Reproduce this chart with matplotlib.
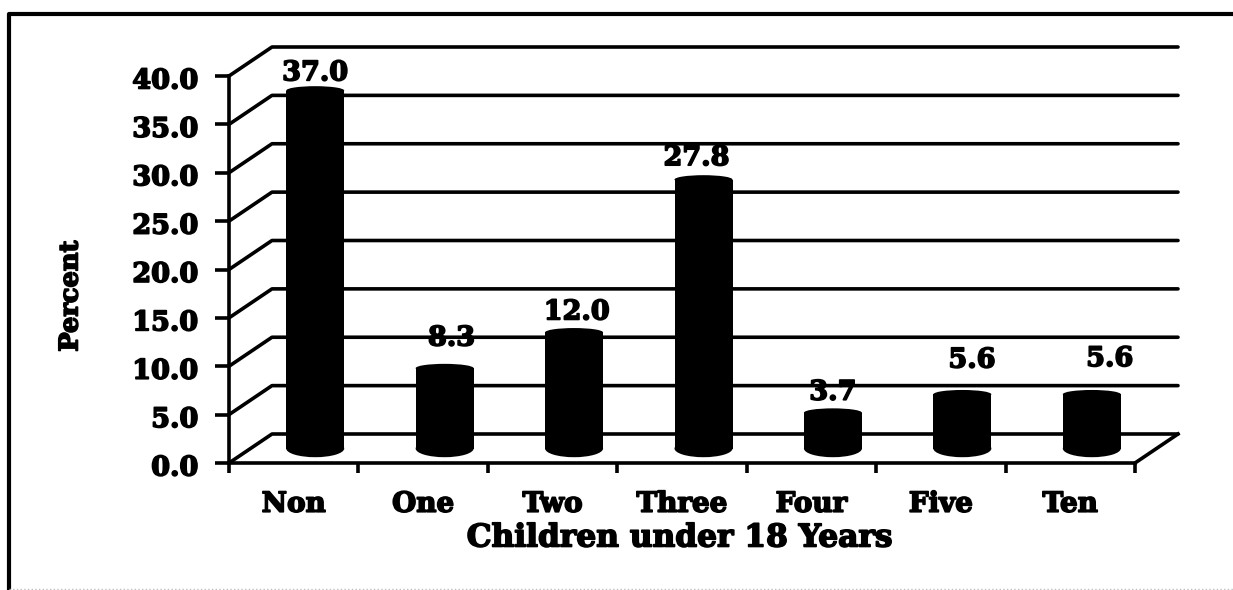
import numpy as np
import matplotlib
matplotlib.use('Agg')
import matplotlib.pyplot as plt
import matplotlib.patheffects as pe
from matplotlib.patches import Ellipse
from matplotlib.transforms import ScaledTranslation

categories = ['Non', 'One', 'Two', 'Three', 'Four', 'Five', 'Ten']
percent = [37.0, 8.3, 12.0, 27.8, 3.7, 5.6, 5.6]
grid_values = [0, 5, 10, 15, 20, 25, 30, 35, 40]
# the labels sit unevenly in the scan, shift from bar centre/top in points
label_dx = [0, 5, 2, -5, 0, 7, 13]
label_dy = [0, 9, 2, 3, 2, 12, 13]

W, H = 1233, 590
plt.rcParams['font.family'] = ['DejaVu Serif']
plt.rcParams['font.weight'] = 'bold'

fig = plt.figure(figsize=(W / 100, H / 100), dpi=100, facecolor='white')

# scanned page frame, only left and top really survive
frame = fig.add_axes([0, 0, 1, 1])
frame.set_xlim(0, W)
frame.set_ylim(H, 0)
frame.axis('off')
frame.plot([9, 9, W], [H, 14, 14], color='k', lw=3)
frame.plot([9, W], [589, 589], color='0.75', lw=1, ls=':')

# axes box = front plane of the 3D chart
left, right, bottom, top = 229, 1135, 463, 76
ax = fig.add_axes([left / W, 1 - bottom / H, (right - left) / W, (bottom - top) / H])
ax.set_xlim(0, 7)
ax.set_ylim(0, 40)
ax.patch.set_alpha(0)
for s in ['top', 'right']:
    ax.spines[s].set_visible(False)
ax.spines['left'].set_linewidth(2.6)
ax.spines['bottom'].set_linewidth(2.6)

# depth of the chart in data units
dx = 43 / ((right - left) / 7)
dy = 29 / ((bottom - top) / 40)

for v in grid_values:
    ax.plot([0, dx, 7 + dx], [v, v + dy, v + dy], color='k', lw=2.6, clip_on=False,
            solid_capstyle='round', zorder=1)
ax.plot([7, 7 + dx], [0, dy], color='k', lw=2.6, clip_on=False, zorder=1)

# cylinders
bar_w = 58 / ((right - left) / 7)
x = np.arange(len(categories)) + 0.5 + dx / 2
base = dy / 2
stroke = [pe.withStroke(linewidth=1.2, foreground='k')]
ax.bar(x, percent, bottom=base, width=bar_w, color='k', lw=0, zorder=3, clip_on=False)
for i, (xi, v) in enumerate(zip(x, percent)):
    ax.add_patch(Ellipse((xi, base), bar_w, 1.8, fc='k', lw=0, zorder=3, clip_on=False))
    ax.add_patch(Ellipse((xi, base + v), bar_w, 0.9, fc='k', lw=0, zorder=3, clip_on=False))
    ax.annotate('%.1f' % v, (xi, base + v), xytext=(label_dx[i], 3 + label_dy[i]),
                textcoords='offset points', ha='center', va='bottom', fontsize=19.5,
                fontweight='bold', zorder=4, annotation_clip=False, path_effects=stroke)

ax.set_xticks(np.arange(0, 8))
ax.set_xticks(np.arange(len(categories)) + 0.5, categories, minor=True)
ax.set_yticks(grid_values, ['%.1f' % v for v in grid_values])
ax.tick_params(axis='x', which='major', length=7, width=2.6, labelbottom=False)
ax.tick_params(axis='x', which='minor', length=0, pad=20, labelsize=20)
ax.tick_params(axis='y', length=10, width=2.6, pad=12, labelsize=19.5)
for t in ax.get_xticklabels(minor=True) + ax.get_yticklabels():
    t.set_fontweight('bold')
    t.set_path_effects(stroke)
# y labels sit a little low in the scan
for t in ax.get_yticklabels():
    t.set_transform(t.get_transform() + ScaledTranslation(0, -2 / 100, fig.dpi_scale_trans))

fig.text(680 / W, 1 - 538 / H, 'Children under 18 Years', ha='center', va='center',
         fontsize=22.5, fontweight='bold', path_effects=stroke)
fig.text(70 / W, 1 - 296 / H, 'Percent', ha='center', va='center', rotation=90,
         fontsize=18.5, fontweight='bold', path_effects=stroke)

fig.savefig('out.png', dpi=100)
